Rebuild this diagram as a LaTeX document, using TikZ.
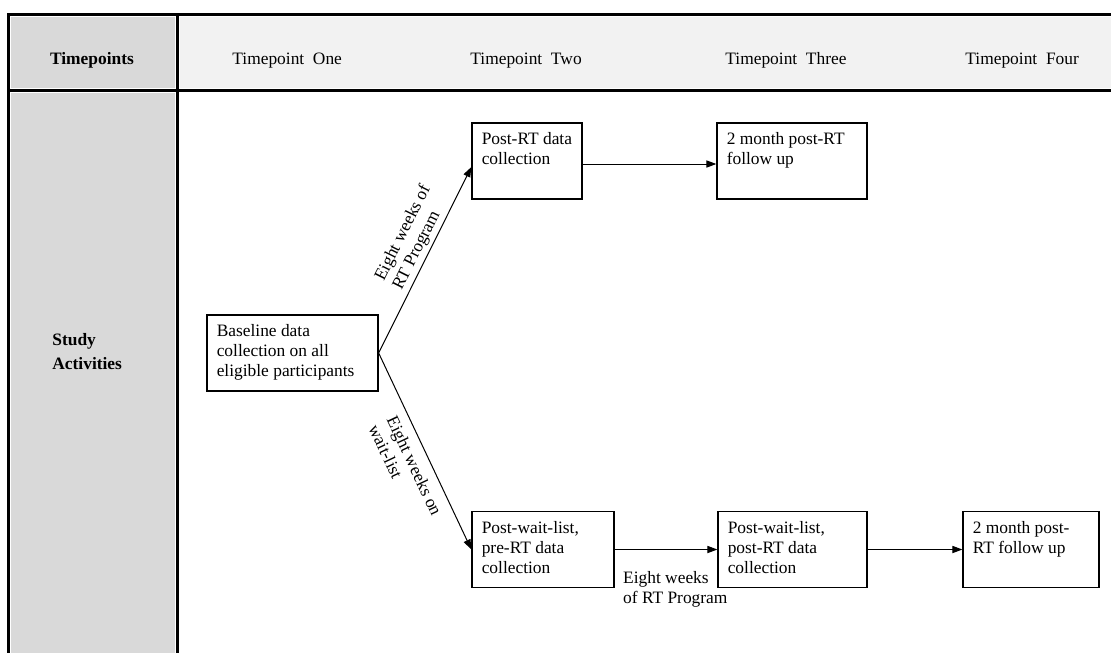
\documentclass[tikz,border=0pt]{standalone}
\usepackage{fontspec}
\setmainfont{Liberation Serif}
\usetikzlibrary{arrows.meta,positioning}
\definecolor{cellgray}{HTML}{D9D9D9}
\definecolor{headgray}{HTML}{F2F2F2}

\begin{document}
\begin{tikzpicture}[x=0.5pt,y=-0.5pt,font=\fontsize{8.7}{10}\selectfont]
    \tikzset{
        rule/.style={line width=1.5pt},
        title/.style={font=\fontsize{8.7}{12}\selectfont\bfseries, inner sep=0pt},
        head/.style={anchor=base west, inner sep=0pt},
        stage/.style={draw, line width=0.65pt, inner sep=0pt, minimum height=38pt},
        inside/.style={anchor=north west, align=left, inner xsep=5pt, inner ysep=5pt},
        flow/.style={line width=0.5pt, -{Triangle[length=5pt,width=3.6pt]}},
        along/.style={sloped, align=left, inner sep=1.5pt}
    }
    \useasboundingbox (0,0) rectangle (1111,653);
    \fill[cellgray] (10.5,16.5) rectangle (174.5,87.5);
    \fill[cellgray] (10.5,92.5) rectangle (174.5,653);
    \fill[headgray] (179.5,16.5) rectangle (1111,87.5);
    \draw[rule] (1111,14) -- (8,14) -- (8,653);
    \draw[rule] (8,90) -- (1111,90);
    \draw[rule] (177,14) -- (177,653);

    \node[title, anchor=base] (tphead) at (92,64) {Timepoints};
    \node[head] (tpone) at (232,64) {Timepoint~~One};
    \node[head] (tptwo) at (470,64) {Timepoint~~Two};
    \node[head] (tpthree) at (725,64) {Timepoint~~Three};
    \node[head] (tpfour) at (965,64) {Timepoint~~Four};
    \node[title, anchor=north west, align=left] (acthead) at (52,333) {Study\\Activities};

    \node[stage, minimum width=85.5pt, label={[inside]north west:Baseline data\\collection on all\\eligible participants}] (base) at (292.5,353) {};
    \node[stage, minimum width=55pt, label={[inside]north west:Post-RT data\\collection}] (postrt) at (527,161) {};
    \node[stage, minimum width=75pt, label={[inside]north west:2 month post-RT\\follow up}] (followrt) at (792,161) {};
    \node[stage, minimum width=71pt, label={[inside]north west:Post-wait-list,\\pre-RT data\\collection}] (prewait) at (543,549.5) {};
    \node[stage, minimum width=74.5pt, label={[inside]north west:Post-wait-list,\\post-RT data\\collection}] (postwait) at (792.5,549.5) {};
    \node[stage, minimum width=68pt, label={[inside]north west:2 month post-\\RT follow up}] (followwait) at (1031,549.5) {};

    \draw[flow] (base.east) -- node[along, above, pos=0.57] (rtlabel) {Eight weeks of\\RT Program} ([yshift=-3pt]postrt.west);
    \draw[flow] (base.east) -- node[along, below, pos=0.54, inner sep=4.5pt] (waitlabel) {Eight weeks on\\wait-list} (prewait.west);
    \draw[flow] ([yshift=-1.5pt]postrt.east) -- ([yshift=-1.5pt]followrt.west);
    \draw[flow] (prewait.east) -- node[pos=0, below right=10.5pt and 4pt, align=left, inner sep=0pt] (gaplabel) {Eight weeks\\of RT Program} (postwait.west);
    \draw[flow] (postwait.east) -- (followwait.west);
\end{tikzpicture}
\end{document}
